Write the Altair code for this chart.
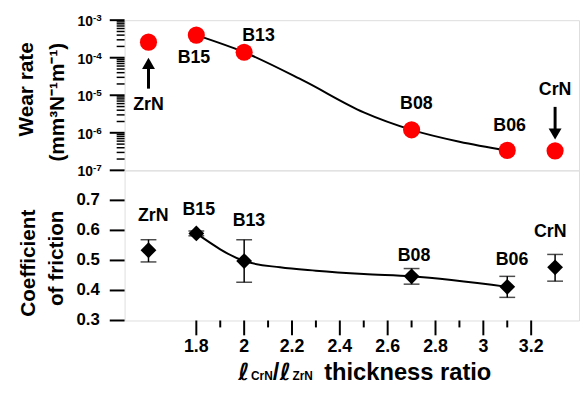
import altair as alt
import pandas as pd

# ---- data ----
samples = ["ZrN", "B15", "B13", "B08", "B06", "CrN"]
ratio = [1.6, 1.8, 2.0, 2.7, 3.1, 3.3]
wear = [2.6e-4, 4.0e-4, 1.4e-4, 1.2e-6, 3.4e-7, 3.3e-7]
cof = [0.534, 0.590, 0.498, 0.447, 0.412, 0.477]
cof_lo = [0.495, 0.582, 0.427, 0.421, 0.377, 0.431]
cof_hi = [0.569, 0.598, 0.569, 0.473, 0.447, 0.520]

# fitted guide curves
wear_fit_x = [1.8, 2.0, 2.25, 2.5, 2.7, 2.9, 3.1]
wear_fit_y = [4.0e-4, 1.4e-4, 2.4e-5, 3.5e-6, 1.2e-6, 5.8e-7, 3.4e-7]
cof_fit_x = [1.8, 2.0, 2.15, 2.3, 2.5, 2.7, 3.1]
cof_fit_y = [0.590, 0.498, 0.477, 0.466, 0.455, 0.447, 0.412]

# annotation label anchors (data coordinates)
top_lab_x = [1.6, 1.79, 2.06, 2.72, 3.11, 3.3]
top_lab_y = [5.5e-6, 1.0e-4, 3.8e-4, 5.8e-6, 1.5e-6, 1.35e-5]
bot_lab_x = [1.62, 1.81, 2.02, 2.71, 3.12, 3.28]
bot_lab_y = [0.648, 0.667, 0.632, 0.515, 0.502, 0.593]

# arrows (ZrN up, CrN down)
arrow_x = [1.6, 3.3]
arrow_tail = [1.5e-5, 4.9e-6]
arrow_shaft_end = [6.3e-5, 1.12e-6]
arrow_head = [7.1e-5, 9.3e-7]
arrow_shape = ["triangle-up", "triangle-down"]

# axis ticks and tick labels
x_domain = [1.5, 3.4]
x_major = [1.8, 2.0, 2.2, 2.4, 2.6, 2.8, 3.0, 3.2]
x_major_labels = ["1.8", "2", "2.2", "2.4", "2.6", "2.8", "3", "3.2"]
x_minor = [1.9, 2.1, 2.3, 2.5, 2.7, 2.9, 3.1]
wear_major = [1e-7, 1e-6, 1e-5, 1e-4, 1e-3]
wear_exponents = ["-7", "-6", "-5", "-4", "-3"]
wear_minor = [m * 10.0 ** e for e in range(-7, -3) for m in range(2, 10)]
cof_ticks = [0.3, 0.4, 0.5, 0.6, 0.7]
cof_tick_labels = ["0.3", "0.4", "0.5", "0.6", "0.7"]

FONT = "Liberation Sans"
W, H = 460, 152

pts = pd.DataFrame({"s": samples, "x": ratio, "wear": wear, "cof": cof,
                    "lo": cof_lo, "hi": cof_hi})
wfit = pd.DataFrame({"x": wear_fit_x, "y": wear_fit_y})
cfit = pd.DataFrame({"x": cof_fit_x, "y": cof_fit_y})
tlab = pd.DataFrame({"s": samples, "x": top_lab_x, "y": top_lab_y})
blab = pd.DataFrame({"s": samples, "x": bot_lab_x, "y": bot_lab_y})
arr = pd.DataFrame({"x": arrow_x, "t": arrow_tail, "e": arrow_shaft_end,
                    "h": arrow_head, "shape": arrow_shape})
wmaj = pd.DataFrame({"v": wear_major, "e": wear_exponents, "b": ["10"] * len(wear_major)})
wmin = pd.DataFrame({"v": wear_minor})
cmaj = pd.DataFrame({"v": cof_ticks, "l": cof_tick_labels})
xmaj = pd.DataFrame({"v": x_major, "l": x_major_labels})
xmin = pd.DataFrame({"v": x_minor})

xs = alt.Scale(domain=x_domain, nice=False, zero=False)
ws = alt.Scale(type="log", domain=[1e-7, 1e-3], nice=False)
cs = alt.Scale(domain=[0.3, 0.8], nice=False, zero=False)


def X(field="x"):
    return alt.X(f"{field}:Q", scale=xs, axis=None)


def Y(field, scale):
    return alt.Y(f"{field}:Q", scale=scale, axis=None)


def txt_layer(text, px, py, size, angle=0, style="normal", font=FONT, align="center",
              baseline="middle"):
    return alt.Chart(pd.DataFrame({"t": [text]})).mark_text(
        font=font, fontSize=size, fontWeight="bold", fontStyle=style, color="black",
        align=align, baseline=baseline, angle=angle).encode(
        x=alt.value(px), y=alt.value(py), text="t:N")


# ---- top panel ----
top_line = alt.Chart(wfit).mark_line(color="black", strokeWidth=2, interpolate="monotone").encode(
    x=X(), y=Y("y", ws))
top_pts = alt.Chart(pts).mark_point(shape="circle", filled=True, color="#ff0000", size=300,
                                    opacity=1).encode(x=X(), y=Y("wear", ws))
top_txt = alt.Chart(tlab).mark_text(font=FONT, fontWeight="bold", fontSize=18, color="black",
                                    baseline="middle").encode(x=X(), y=Y("y", ws), text="s:N")
shaft = alt.Chart(arr).mark_rule(color="black", strokeWidth=3).encode(
    x=X(), y=Y("t", ws), y2="e:Q")
head = alt.Chart(arr).mark_point(filled=True, color="black", size=170, opacity=1).encode(
    x=X(), y=Y("h", ws), shape=alt.Shape("shape:N", scale=None))
# y axis of the top panel: ticks, minor ticks, labels 10^n
wt_major = alt.Chart(wmaj).mark_rule(color="black", strokeWidth=2).encode(
    y=Y("v", ws), x=alt.value(-15), x2=alt.value(0))
wt_minor = alt.Chart(wmin).mark_rule(color="black", strokeWidth=1.5).encode(
    y=Y("v", ws), x=alt.value(-8), x2=alt.value(0))
wt_base = alt.Chart(wmaj).mark_text(font=FONT, fontWeight="bold", fontSize=14, color="black",
                                    align="right", baseline="middle", dy=2).encode(
    y=Y("v", ws), x=alt.value(-32), text="b:N")
wt_exp = alt.Chart(wmaj).mark_text(font=FONT, fontWeight="bold", fontSize=10, color="black",
                                   align="left", baseline="middle", dy=-2).encode(
    y=Y("v", ws), x=alt.value(-32), text="e:N")
top_title = [
    txt_layer("Wear rate", -99, 70, 21, angle=270),
    txt_layer("(mm³N⁻¹m⁻¹)", -67, 83, 21, angle=270),
]
top = alt.layer(top_line, top_pts, top_txt, shaft, head, wt_major, wt_minor, wt_base, wt_exp,
                *top_title).properties(width=W, height=H)

# ---- bottom panel ----
bot_line = alt.Chart(cfit).mark_line(color="black", strokeWidth=2, interpolate="monotone").encode(
    x=X(), y=Y("y", cs))
err = alt.Chart(pts).mark_rule(color="black", strokeWidth=1.5).encode(
    x=X(), y=Y("lo", cs), y2="hi:Q")
cap_lo = alt.Chart(pts).mark_tick(color="black", thickness=1.5, size=16, orient="horizontal").encode(
    x=X(), y=Y("lo", cs))
cap_hi = alt.Chart(pts).mark_tick(color="black", thickness=1.5, size=16, orient="horizontal").encode(
    x=X(), y=Y("hi", cs))
dia = alt.Chart(pts).mark_point(shape="diamond", filled=True, color="black", size=256,
                                opacity=1).encode(x=X(), y=Y("cof", cs))
bot_txt = alt.Chart(blab).mark_text(font=FONT, fontWeight="bold", fontSize=18, color="black",
                                    baseline="middle").encode(x=X(), y=Y("y", cs), text="s:N")
# y axis of the bottom panel
ct_major = alt.Chart(cmaj).mark_rule(color="black", strokeWidth=2).encode(
    y=Y("v", cs), x=alt.value(-15), x2=alt.value(0))
ct_lab = alt.Chart(cmaj).mark_text(font=FONT, fontWeight="bold", fontSize=17, color="black",
                                   align="right", baseline="middle").encode(
    y=Y("v", cs), x=alt.value(-25), text="l:N")
# x axis
xt_major = alt.Chart(xmaj).mark_rule(color="black", strokeWidth=2).encode(
    x=X("v"), y=alt.value(H), y2=alt.value(H + 15))
xt_minor = alt.Chart(xmin).mark_rule(color="black", strokeWidth=2).encode(
    x=X("v"), y=alt.value(H), y2=alt.value(H + 7))
xt_lab = alt.Chart(xmaj).mark_text(font=FONT, fontWeight="bold", fontSize=18, color="black",
                                   align="center", baseline="middle").encode(
    x=X("v"), y=alt.value(H + 27), text="l:N")
bot_title = [
    txt_layer("Coefficient", -97, 94, 21, angle=270),
    txt_layer("of friction", -68, 89, 21, angle=270),
]
# composed x-axis title with subscripts
TY = H + 60
x_title = [
    txt_layer("ℓ", 115, TY, 24, style="italic", font="DejaVu Sans", align="left", baseline="alphabetic"),
    txt_layer("CrN", 128, TY, 12, align="left", baseline="alphabetic"),
    txt_layer("/", 150, TY, 24, align="left", baseline="alphabetic"),
    txt_layer("ℓ", 157, TY, 24, style="italic", font="DejaVu Sans", align="left", baseline="alphabetic"),
    txt_layer("ZrN", 170, TY, 12, align="left", baseline="alphabetic"),
    txt_layer("thickness ratio", 202, TY, 24, align="left", baseline="alphabetic"),
]

bottom = alt.layer(bot_line, err, cap_lo, cap_hi, dia, bot_txt, ct_major, ct_lab,
                   xt_major, xt_minor, xt_lab, *bot_title, *x_title).properties(width=W, height=H)

chart = alt.vconcat(top, bottom, spacing=0, bounds="flush").properties(
    padding={"left": 7, "top": 2, "right": 0, "bottom": 0}
).configure_view(stroke="black", strokeWidth=2).configure(background="white")

chart.save("out.html", embed_options={"renderer": "svg", "actions": False})
